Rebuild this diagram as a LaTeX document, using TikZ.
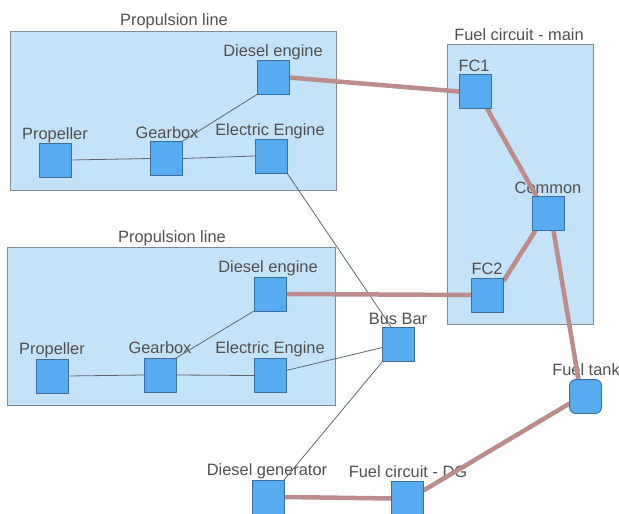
\documentclass[tikz,border=0pt]{standalone}
\usepackage{fontspec}
\setmainfont{Liberation Sans}
\begin{document}
\begin{tikzpicture}[x=1pt,y=-1pt,
  container/.style={draw=cbord, fill=cfill, line width=0.9pt},
  blk/.style={draw=nbord, fill=nfill, line width=0.9pt, minimum width=31pt, minimum height=33pt, inner sep=0pt},
  tank/.style={blk, rounded corners=6pt},
  lbl/.style={text=tcol, font=\fontsize{16.4}{18}\selectfont, inner sep=0pt},
  thin/.style={draw=lcol, line width=0.8pt},
  fuel/.style={draw=fcol, line width=4.5pt}]
\definecolor{cfill}{HTML}{C4E2F8}
\definecolor{cbord}{HTML}{7D8B98}
\definecolor{nfill}{HTML}{56ABF1}
\definecolor{nbord}{HTML}{3D6F9E}
\definecolor{tcol}{HTML}{505050}
\definecolor{lcol}{HTML}{5E6870}
\definecolor{fcol}{HTML}{BC8C8C}
\clip (0,0) rectangle (619,514);
\fill[white] (0,0) rectangle (619,514);

% containers
\node[container, minimum width=326pt, minimum height=159pt, inner sep=0pt] (pl1) at (173,110.5) {};
\node[container, minimum width=328pt, minimum height=158pt, inner sep=0pt] (pl2) at (171,326) {};
\node[container, minimum width=146pt, minimum height=280pt, inner sep=0pt] (fcm) at (520,184) {};
\node[lbl] (pl1t) at (174,21) {Propulsion line};
\node[lbl] (pl2t) at (172,238) {Propulsion line};
\node[lbl] (fcmt) at (519,35) {Fuel circuit - main};

% propulsion line 1
\node[blk] (de1) at (273,77.5) {};
\node[blk] (pr1) at (55,160) {};
\node[blk] (gb1) at (166,158.5) {};
\node[blk] (ee1) at (271,156) {};
\node[lbl] (de1t) at (273,52) {Diesel engine};
\node[lbl] (pr1t) at (55,135) {Propeller};
\node[lbl] (gb1t) at (167,133) {Gearbox};
\node[lbl] (ee1t) at (270,131) {Electric Engine};

% propulsion line 2
\node[blk] (de2) at (270,294) {};
\node[blk] (pr2) at (52,376) {};
\node[blk] (gb2) at (160,375) {};
\node[blk] (ee2) at (270,375.5) {};
\node[lbl] (de2t) at (268,268) {Diesel engine};
\node[lbl] (pr2t) at (52,350) {Propeller};
\node[lbl] (gb2t) at (160,348) {Gearbox};
\node[lbl] (ee2t) at (270,349) {Electric Engine};

% fuel circuit main
\node[blk] (fc1) at (475,91.5) {};
\node[blk] (cm) at (548.5,213.5) {};
\node[blk] (fc2) at (487.5,295) {};
\node[lbl] (fc1t) at (474,66) {FC1};
\node[lbl] (cmt) at (548,188) {Common};
\node[lbl] (fc2t) at (487,269) {FC2};

% others
\node[blk] (bb) at (398.5,344.5) {};
\node[lbl] (bbt) at (398,319) {Bus Bar};
\node[tank] (ft) at (585.5,396.5) {};
\node[lbl] (ftt) at (586,370) {Fuel tank};
\node[blk] (dg) at (268,497) {};
\node[lbl] (dgt) at (267,471) {Diesel generator};
\node[blk] (fcdg) at (407.5,498.5) {};
\node[lbl] (fcdgt) at (408,472) {Fuel circuit - DG};

% thin connections
\draw[thin] (pr1.east) -- (gb1.west);
\draw[thin] (gb1.east) -- (ee1.west);
\draw[thin] (gb1.north east) -- (de1.south west);
\draw[thin] (pr2.east) -- (gb2.west);
\draw[thin] (gb2.east) -- (ee2.west);
\draw[thin] (gb2.north east) -- (de2.south west);
\draw[thin] (ee1.south east) -- ([xshift=-7pt]bb.north);
\draw[thin] ([yshift=5pt]ee2.east) -- ([yshift=-3pt]bb.west);
\draw[thin] (bb.south west) -- (dg.north east);

% fuel connections
\draw[fuel] (de1.east) -- (fc1.west);
\draw[fuel] ([xshift=-4pt]fc1.south east) -- ([xshift=4pt]cm.north west);
\draw[fuel] ([xshift=3pt]cm.south west) -- ([yshift=-3pt]fc2.north east);
\draw[fuel] (de2.east) -- (fc2.west);
\draw[fuel] ([xshift=5pt]cm.south) -- ([xshift=-7pt]ft.north);
\draw[fuel] ([yshift=-7pt]ft.west) -- ([yshift=8pt]fcdg.east);
\draw[fuel] (dg.east) -- (fcdg.west);

% redraw nodes above connectors
\foreach \n in {de1,pr1,gb1,ee1,de2,pr2,gb2,ee2,fc1,cm,fc2,bb,dg,fcdg}{
  \draw[nbord, fill=nfill, line width=0.9pt] (\n.north west) rectangle (\n.south east);
}
\draw[nbord, fill=nfill, line width=0.9pt, rounded corners=6pt] (ft.north west) rectangle (ft.south east);
\end{tikzpicture}
\end{document}
